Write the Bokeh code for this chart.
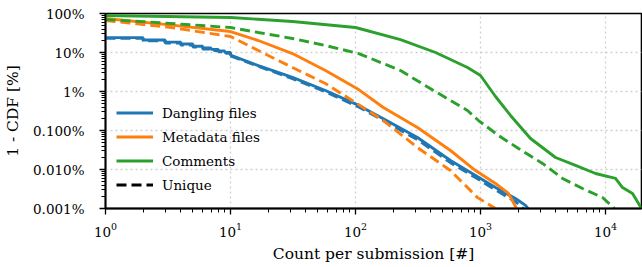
from bokeh.plotting import figure
from bokeh.models import (Range1d, LogTicker, CustomJSTickFormatter, Legend, LegendItem)
from bokeh.embed import file_html
from bokeh.resources import INLINE

# ---- data ----
# Dangling files (solid): integer steps then tail
dang_step_x = [1, 2, 3, 4, 5, 6, 7, 8, 9, 10]
dang_step_y = [24, 21, 18.5, 16.5, 14.5, 13, 12, 11, 10, 8.6]
dang_x = [10, 16.7, 31.3, 57.5, 106, 167, 313, 575, 912, 1318, 1905, 2291, 2400]
dang_y = [8.6, 4.6, 2.29, 1.06, 0.44, 0.20, 0.066, 0.017, 0.0070, 0.00345, 0.0018, 0.0012, 0.001]
# Dangling files, unique (dashed)
dang_u_step_x = [1, 2, 3, 4, 5, 6, 7, 8, 9, 10]
dang_u_step_y = [23, 20, 17.5, 15.5, 13.8, 12.3, 11.3, 10.4, 9.5, 8.2]
dang_u_x = [10, 16.7, 31.3, 57.5, 106, 167, 313, 575, 912, 1318, 1905, 2200]
dang_u_y = [8.2, 4.4, 2.15, 0.98, 0.40, 0.18, 0.058, 0.015, 0.0062, 0.0030, 0.0015, 0.001]
# Metadata files
meta_x = [1, 3.13, 10, 16.7, 31.3, 57.5, 106, 167, 313, 575, 912, 1318, 1675, 1941]
meta_y = [74.5, 52, 34.5, 20.3, 9.4, 3.45, 1.12, 0.389, 0.119, 0.0307, 0.0094, 0.00438, 0.00243, 0.001]
meta_u_x = [1, 3.13, 10, 16.7, 31.3, 57.5, 100, 167, 313, 575, 947, 1318]
meta_u_y = [66, 45, 25.7, 11.2, 4.12, 1.6, 0.52, 0.18, 0.0366, 0.0094, 0.0019, 0.001]
# Comments
com_x = [1, 3.13, 10, 31.3, 100, 229, 437, 787, 1000, 1318, 1738, 2512, 3981, 5754, 8318, 12023, 13677, 16444, 19409]
com_y = [88.9, 83.7, 78.9, 62.4, 43.7, 21.5, 10, 4.12, 2.57, 0.745, 0.243, 0.0624, 0.0203, 0.0127, 0.0079, 0.0059, 0.00345, 0.00243, 0.001]
com_u_x = [1, 2.0, 10, 16.7, 31.3, 57.5, 106, 229, 421, 787, 964, 1393, 2014, 3133, 4529, 6546, 9462, 11803]
com_u_y = [70, 62, 43.7, 32.6, 22.9, 15.1, 9.4, 3.45, 1.06, 0.326, 0.18, 0.0745, 0.0345, 0.0143, 0.0059, 0.00326, 0.00191, 0.001]

y_tick_exponents = [-3, -2, -1, 0, 1, 2]
y_tick_labels = ["0.001%", "0.010%", "0.100%", "1%", "10%", "100%"]
legend_labels = ["Dangling files", "Metadata files", "Comments", "Unique"]

BLUE, ORANGE, GREEN = "#1f77b4", "#ff7f0e", "#2ca02c"
FONT = "DejaVu Serif"
LW = 2.9
DASH = "10 5"

p = figure(width=642, height=267, x_axis_type="log", y_axis_type="log",
           output_backend="svg", toolbar_location=None,
           x_range=Range1d(1, 19400), y_range=Range1d(0.001, 100),
           min_border_left=105, min_border_top=13, min_border_right=1, min_border_bottom=59)

p.background_fill_color = "white"
p.border_fill_color = "white"
p.outline_line_color = "black"
p.outline_line_width = 1.6

r_dang = p.step(dang_step_x, dang_step_y, mode="after", line_color=BLUE, line_width=LW)
p.line(dang_x, dang_y, line_color=BLUE, line_width=LW)
p.step(dang_u_step_x, dang_u_step_y, mode="after", line_color=BLUE, line_width=LW, line_dash=DASH)
p.line(dang_u_x, dang_u_y, line_color=BLUE, line_width=LW, line_dash=DASH)
r_meta = p.line(meta_x, meta_y, line_color=ORANGE, line_width=LW)
p.line(meta_u_x, meta_u_y, line_color=ORANGE, line_width=LW, line_dash=DASH)
r_com = p.line(com_x, com_y, line_color=GREEN, line_width=LW)
p.line(com_u_x, com_u_y, line_color=GREEN, line_width=LW, line_dash=DASH)
# legend-only proxy for the "Unique" (dashed) style: a single NaN point draws nothing
r_uniq = p.line([float("nan")], [float("nan")], line_color="black", line_width=LW, line_dash=DASH)

# grid
for g in (p.xgrid, p.ygrid):
    g.grid_line_color = "#cfcfcf"
    g.grid_line_dash = "2 3"
    g.grid_line_width = 1.3

# axes
p.yaxis.ticker = LogTicker(desired_num_ticks=6, num_minor_ticks=10)
p.yaxis.formatter = CustomJSTickFormatter(
    args=dict(exps=y_tick_exponents, labels=y_tick_labels),
    code="""
const e = Math.round(Math.log10(tick));
const i = exps.indexOf(e);
return i >= 0 ? labels[i] : "";
""")
p.xaxis.ticker = LogTicker(desired_num_ticks=6, num_minor_ticks=10)

for ax in (p.xaxis, p.yaxis):
    ax.axis_line_color = "black"
    ax.axis_line_width = 1.8
    ax.major_tick_line_color = "black"
    ax.minor_tick_line_color = "black"
    ax.major_tick_line_width = 1.3
    ax.minor_tick_line_width = 1.0
    ax.major_tick_out = 6
    ax.major_tick_in = 0
    ax.minor_tick_out = 4
    ax.minor_tick_in = 0
    ax.major_label_text_font = FONT
    ax.major_label_text_font_size = "13.5px"
    ax.major_label_text_color = "black"
    ax.axis_label_text_font = FONT
    ax.axis_label_text_font_size = "15.5px"
    ax.axis_label_text_font_style = "normal"
    ax.axis_label_text_color = "black"

p.yaxis.axis_label = "1 - CDF [%]"
p.xaxis.axis_label = "Count per submission [#]"
p.yaxis.major_label_standoff = 15
p.xaxis.major_label_standoff = 8
p.yaxis.axis_label_standoff = 8
p.xaxis.axis_label_standoff = 5

legend = Legend(items=[
    LegendItem(label=legend_labels[0], renderers=[r_dang]),
    LegendItem(label=legend_labels[1], renderers=[r_meta]),
    LegendItem(label=legend_labels[2], renderers=[r_com]),
    LegendItem(label=legend_labels[3], renderers=[r_uniq]),
], location=(6, 10))
legend.border_line_alpha = 0
legend.background_fill_alpha = 0
legend.label_text_font = FONT
legend.label_text_font_size = "13.5px"
legend.label_text_color = "black"
legend.glyph_width = 37
legend.glyph_height = 17
legend.label_height = 17
legend.label_standoff = 9
legend.spacing = 7
legend.padding = 5
legend.margin = 0
p.add_layout(legend)

open("out.html", "w").write(file_html(p, INLINE))
